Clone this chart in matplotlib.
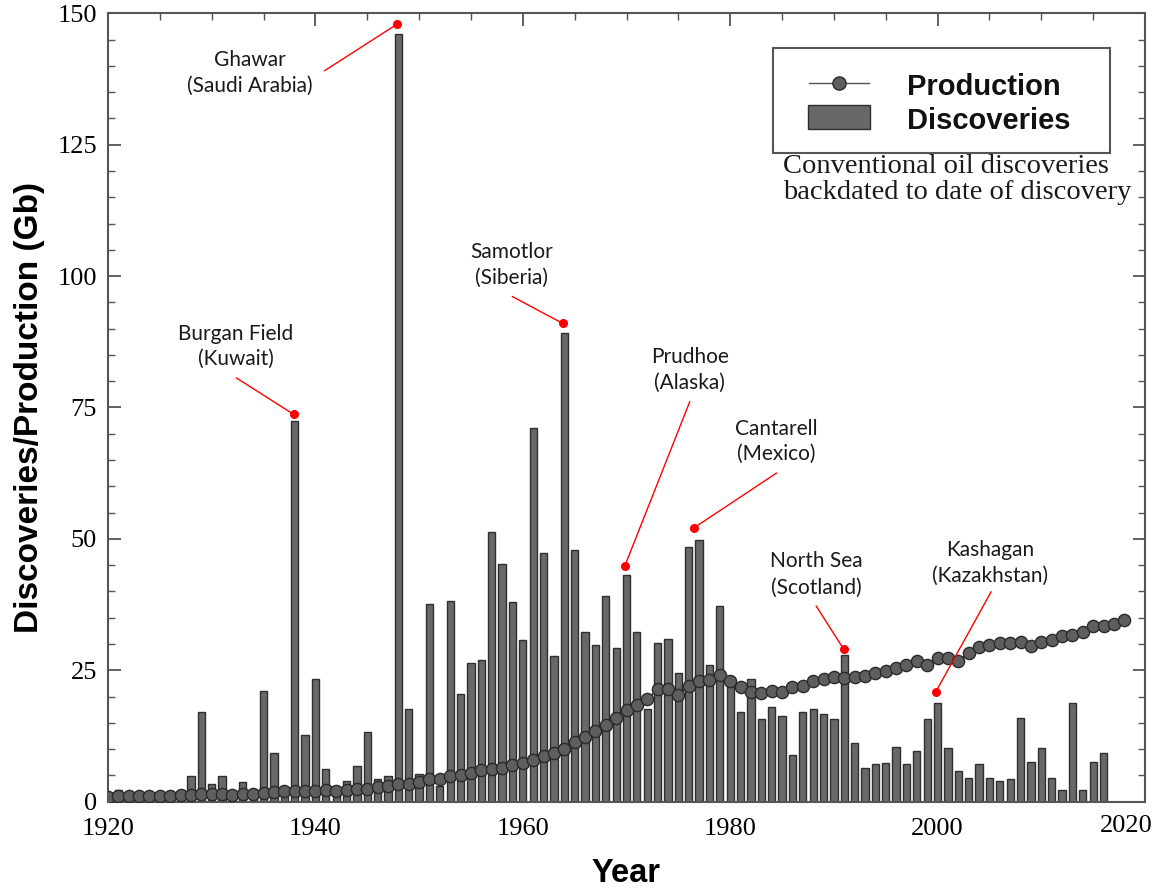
import matplotlib
matplotlib.use("Agg")
import matplotlib.pyplot as plt
from matplotlib.patches import Rectangle
from matplotlib.ticker import MultipleLocator, FixedLocator, FixedFormatter

# ---------------- data ----------------
discoveries = [
    1.2, 2.3, 0.8, 0.7, 0.8, 1.0, 2.0, 2.0, 4.9, 17.0,      # 1920-1929
    3.4, 4.9, 1.0, 3.7, 1.5, 21.1, 9.3, 1.5, 72.4, 12.7,    # 1930-1939
    23.3, 6.2, 1.2, 4.0, 6.8, 13.3, 4.4, 4.9, 146.0, 17.6,  # 1940-1949
    5.3, 37.6, 3.0, 38.2, 20.5, 26.4, 27.0, 51.3, 45.3, 37.9,  # 1950-1959
    30.8, 71.1, 47.3, 27.7, 89.2, 47.8, 32.2, 29.8, 39.1, 29.2,  # 1960-1969
    43.1, 32.2, 17.7, 30.1, 31.0, 24.5, 48.5, 49.7, 26.1, 37.2,  # 1970-1979
    22.5, 17.0, 23.3, 15.8, 18.0, 16.4, 8.9, 17.0, 17.6, 16.7,   # 1980-1989
    15.8, 27.9, 11.2, 6.5, 7.1, 7.4, 10.5, 7.1, 9.6, 15.8,       # 1990-1999
    18.8, 10.2, 5.8, 4.6, 7.1, 4.6, 3.9, 4.3, 15.9, 7.5,         # 2000-2009
    10.3, 4.6, 2.2, 18.8, 2.2, 7.5, 9.3,                          # 2010-2016
]
disc_years = list(range(1920, 1920 + len(discoveries)))

production = [
    0.9, 1.0, 1.0, 1.0, 1.0, 1.1, 1.1, 1.2, 1.3, 1.5,       # 1920-1929
    1.4, 1.4, 1.3, 1.4, 1.5, 1.6, 1.8, 2.0, 2.0, 2.1,       # 1930-1939
    2.1, 2.2, 2.0, 2.2, 2.5, 2.4, 2.8, 3.0, 3.4, 3.4,       # 1940-1949
    3.8, 4.3, 4.4, 4.8, 5.0, 5.4, 6.0, 6.3, 6.5, 7.0,       # 1950-1959
    7.4, 7.9, 8.7, 9.2, 10.0, 11.4, 12.4, 13.5, 14.6, 15.9, # 1960-1969
    17.4, 18.4, 19.5, 21.4, 21.5, 20.3, 22.1, 23.0, 23.2, 24.2,  # 1970-1979
    23.0, 21.8, 20.9, 20.7, 21.0, 20.9, 21.9, 22.1, 23.0, 23.3,  # 1980-1989
    23.7, 23.6, 23.8, 23.9, 24.4, 24.8, 25.4, 26.0, 26.8, 26.1,  # 1990-1999
    27.3, 27.3, 26.8, 28.2, 29.4, 29.8, 30.1, 30.1, 30.3, 29.7,  # 2000-2009
    30.4, 30.8, 31.5, 31.7, 32.3, 33.4, 33.5, 33.8, 34.6,        # 2010-2018
]
prod_years = list(range(1920, 1920 + len(production)))

x_ticks = [1920, 1940, 1960, 1980, 2000, 2020]
x_tick_labels = ["1920", "1940", "1960", "1980", "2000", "2020"]

field_names = ["Ghawar", "Burgan Field", "Samotlor", "Prudhoe", "Cantarell", "North Sea", "Kashagan"]
field_regions = ["(Saudi Arabia)", "(Kuwait)", "(Siberia)", "(Alaska)", "(Mexico)", "(Scotland)", "(Kazakhstan)"]
label_pos = [(1933.7, 141.1, 136.2), (1932.3, 89.0, 84.2), (1958.9, 104.6, 99.7),
             (1976.1, 84.7, 79.7), (1984.4, 71.0, 66.1), (1988.3, 45.8, 40.7),
             (2005.05, 47.9, 42.9)]
line_start = [(1940.9, 139.1), (1932.4, 80.6), (1959.0, 96.1), (1976.1, 76.1),
              (1984.45, 62.5), (1988.3, 37.2), (2005.15, 39.9)]
dot_pos = [(1947.85, 147.9), (1937.9, 73.7), (1963.85, 91.0), (1969.85, 44.9),
           (1976.5, 52.1), (1990.95, 29.0), (1999.8, 20.8)]

# ---------------- figure ----------------
W, H = 1164, 892
fig = plt.figure(figsize=(W / 100, H / 100), dpi=100)
x0, x1, ytop, ybot = 108, 1145, 13.3, 801.7
ax = fig.add_axes([x0 / W, (H - ybot) / H, (x1 - x0) / W, (ybot - ytop) / H])

bar_face = "#686868"
bar_edge = "#2e2e2e"
ax.bar(disc_years, discoveries, width=0.7, color=bar_face, edgecolor=bar_edge,
       linewidth=1.0, zorder=2)
ax.plot(prod_years, production, "-o", color="#2e2e2e", lw=1.2, mfc="#5e5e5e",
        mec="#2a2a2a", ms=8.8, mew=1.0, zorder=3)

ax.set_xlim(1920, 2020)
ax.set_ylim(0, 150)
ax.xaxis.set_major_locator(FixedLocator(x_ticks))
# the last label is drawn separately (nudged left, as in the original)
ax.xaxis.set_major_formatter(FixedFormatter(x_tick_labels[:-1] + [""]))
ax.xaxis.set_minor_locator(MultipleLocator(5))
ax.yaxis.set_major_locator(MultipleLocator(25))
ax.yaxis.set_minor_locator(MultipleLocator(5))
ax.tick_params(which="both", direction="in", top=True, right=True, color="#555555")
ax.tick_params(which="major", length=9, width=1.3, labelsize=19)
ax.tick_params(axis="x", which="major", pad=12)
ax.tick_params(axis="y", which="major", pad=8)
ax.tick_params(which="minor", length=5, width=1.0)
for lab in ax.get_xticklabels() + ax.get_yticklabels():
    lab.set_fontfamily("Liberation Serif")
for s in ax.spines.values():
    s.set_color("#555555")
    s.set_linewidth(1.5)


def fx(px):
    return (px - x0) / (x1 - x0)


def fy(py):
    return (ybot - py) / (ybot - ytop)


T = ax.transAxes
ax.text(fx(1126), fy(826), x_tick_labels[-1], transform=T, family="Liberation Serif",
        fontsize=19, ha="center", va="center", clip_on=False)

ax.set_xlabel("Year", fontsize=23.5, fontweight="bold", family="Liberation Sans", labelpad=13)
ax.set_ylabel("Discoveries/Production (Gb)", fontsize=24, fontweight="bold",
              family="Liberation Sans", labelpad=9)

# annotations
ann_font = dict(family="Lato", fontsize=15, color="#1a1a1a", ha="center", va="center")
for name, reg, (tx, ty1, ty2), (lx, ly), (dx, dy) in zip(field_names, field_regions, label_pos, line_start, dot_pos):
    ax.text(tx, ty1, name, zorder=6, **ann_font)
    ax.text(tx, ty2, reg, zorder=6, **ann_font)
    ax.plot([lx, dx], [ly, dy], color="red", lw=1.0, zorder=5)
    ax.plot([dx], [dy], "o", color="red", ms=5.5, zorder=5)

# legend (drawn manually in axes coordinates)
ax.add_patch(Rectangle((fx(773), fy(153)), fx(1110) - fx(773), fy(48) - fy(153),
                       transform=T, facecolor="white", edgecolor="#555555", lw=1.5, zorder=7))
ax.plot([fx(809), fx(869)], [fy(83), fy(83)], transform=T, color="#555555", lw=1.0, zorder=8)
ax.plot([fx(839)], [fy(83)], "o", transform=T, mfc="#5e5e5e", mec="#2a2a2a", ms=9.5, mew=1.0, zorder=9)
ax.add_patch(Rectangle((fx(808), fy(129)), fx(870) - fx(808), fy(105) - fy(129),
                       transform=T, facecolor=bar_face, edgecolor=bar_edge, lw=1.0, zorder=8))
leg_font = dict(family="Liberation Sans", fontweight="bold", fontsize=21, color="#111111",
                ha="left", va="baseline", transform=T, zorder=9)
ax.text(fx(907), fy(95), "Production", **leg_font)
ax.text(fx(907), fy(129), "Discoveries", **leg_font)

note_font = dict(family="Liberation Serif", fontsize=20.5, color="#1a1a1a", ha="left",
                 va="baseline", transform=T, zorder=9)
ax.text(fx(783), fy(173), "Conventional oil discoveries", **note_font)
ax.text(fx(783), fy(199), "backdated to date of discovery", **note_font)

fig.savefig("out.png", dpi=100)
